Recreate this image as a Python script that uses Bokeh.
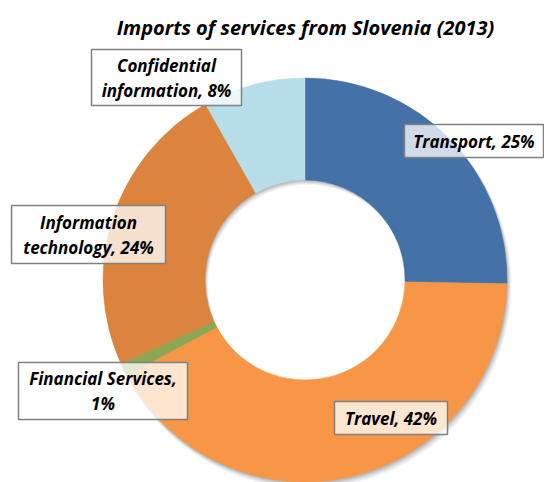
import math
from bokeh.plotting import figure
from bokeh.models import Range1d, ColumnDataSource
from bokeh.core.properties import value
from bokeh.embed import file_html
from bokeh.resources import INLINE

# ---- data ----
chart_title = "Imports of services from Slovenia (2013)"
categories = ["Transport", "Travel", "Financial Services",
              "Information technology", "Confidential information"]
shares = [25.3, 41.9, 1.0, 23.6, 8.2]
colors = ["#4472A8", "#F79646", "#8BA753", "#DB843D", "#B7DEE8"]

# ---- layout (reference pixel coords) ----
W, H = 544, 482
OFF = 0
def fx(x): return x - OFF
def fy(y): return H - (y - OFF)

CX, CY = fx(304.5), fy(279.5)
R_OUT, R_IN = 202, 100

label_boxes = {  # x0, y0, x1, y1 in reference pixels
    "Transport": (404, 124, 543, 157),
    "Travel": (334, 401, 447, 434),
    "Financial Services": (18, 362, 187, 419),
    "Information technology": (11, 205, 165, 263),
    "Confidential information": (91, 49, 241, 105),
}
wrap_after = {"Financial Services": 2, "Information technology": 1,
              "Confidential information": 1}

total = sum(shares)
starts, ends = [], []
acc = 0.0
for v in shares:
    starts.append(math.pi / 2 - 2 * math.pi * acc / total)
    acc += v
    ends.append(math.pi / 2 - 2 * math.pi * acc / total)

src = ColumnDataSource(dict(cat=categories, share=shares, color=colors,
                            start=starts, end=ends))

p = figure(width=W, height=H, x_range=Range1d(0, W), y_range=Range1d(0, H),
           output_backend="svg", toolbar_location=None, min_border=0,
           x_axis_type=None, y_axis_type=None)
p.grid.visible = False
p.outline_line_color = None
p.background_fill_color = "white"
p.border_fill_color = "white"

# soft shadow
for d, a in [(5, 0.04), (4, 0.05), (3, 0.06), (2, 0.08), (1, 0.08)]:
    p.annulus(x=CX + d * 0.6, y=CY - d, inner_radius=R_IN, outer_radius=R_OUT + d * 0.3,
              fill_color="black", fill_alpha=a, line_color=None)

p.annular_wedge(x=CX, y=CY, inner_radius=R_IN, outer_radius=R_OUT,
                start_angle="start", end_angle="end", direction="clock",
                fill_color="color", line_color="color", line_width=0.5, source=src)

font = value("Open Sans")
# title
p.text(x=[fx(305)], y=[fy(27)], text=[chart_title], text_font=font,
       text_font_style="bold italic", text_font_size="20px",
       text_align="center", text_baseline="middle", text_color="black")

# labels
for cat, v in zip(categories, shares):
    label = f"{cat}, {round(v)}%"
    x0, y0, x1, y1 = label_boxes[cat]
    bx, by = (x0 + x1) / 2, (y0 + y1) / 2
    p.rect(x=[fx(bx)], y=[fy(by)], width=[x1 - x0], height=[y1 - y0],
           fill_color="white", fill_alpha=0.75, line_color="#808080", line_width=1.5)
    words = label.split(" ")
    if cat in wrap_after:
        n = wrap_after[cat]
        lines = [" ".join(words[:n]), " ".join(words[n:])]
    else:
        lines = [label]
    step = 25
    y_first = by - step * (len(lines) - 1) / 2
    for i, ln in enumerate(lines):
        p.text(x=[fx(bx)], y=[fy(y_first + i * step)], text=[ln], text_font=font,
               text_font_style="bold italic", text_font_size="17px",
               text_align="center", text_baseline="middle", text_color="black")

open("out.html", "w").write(file_html(p, INLINE))
